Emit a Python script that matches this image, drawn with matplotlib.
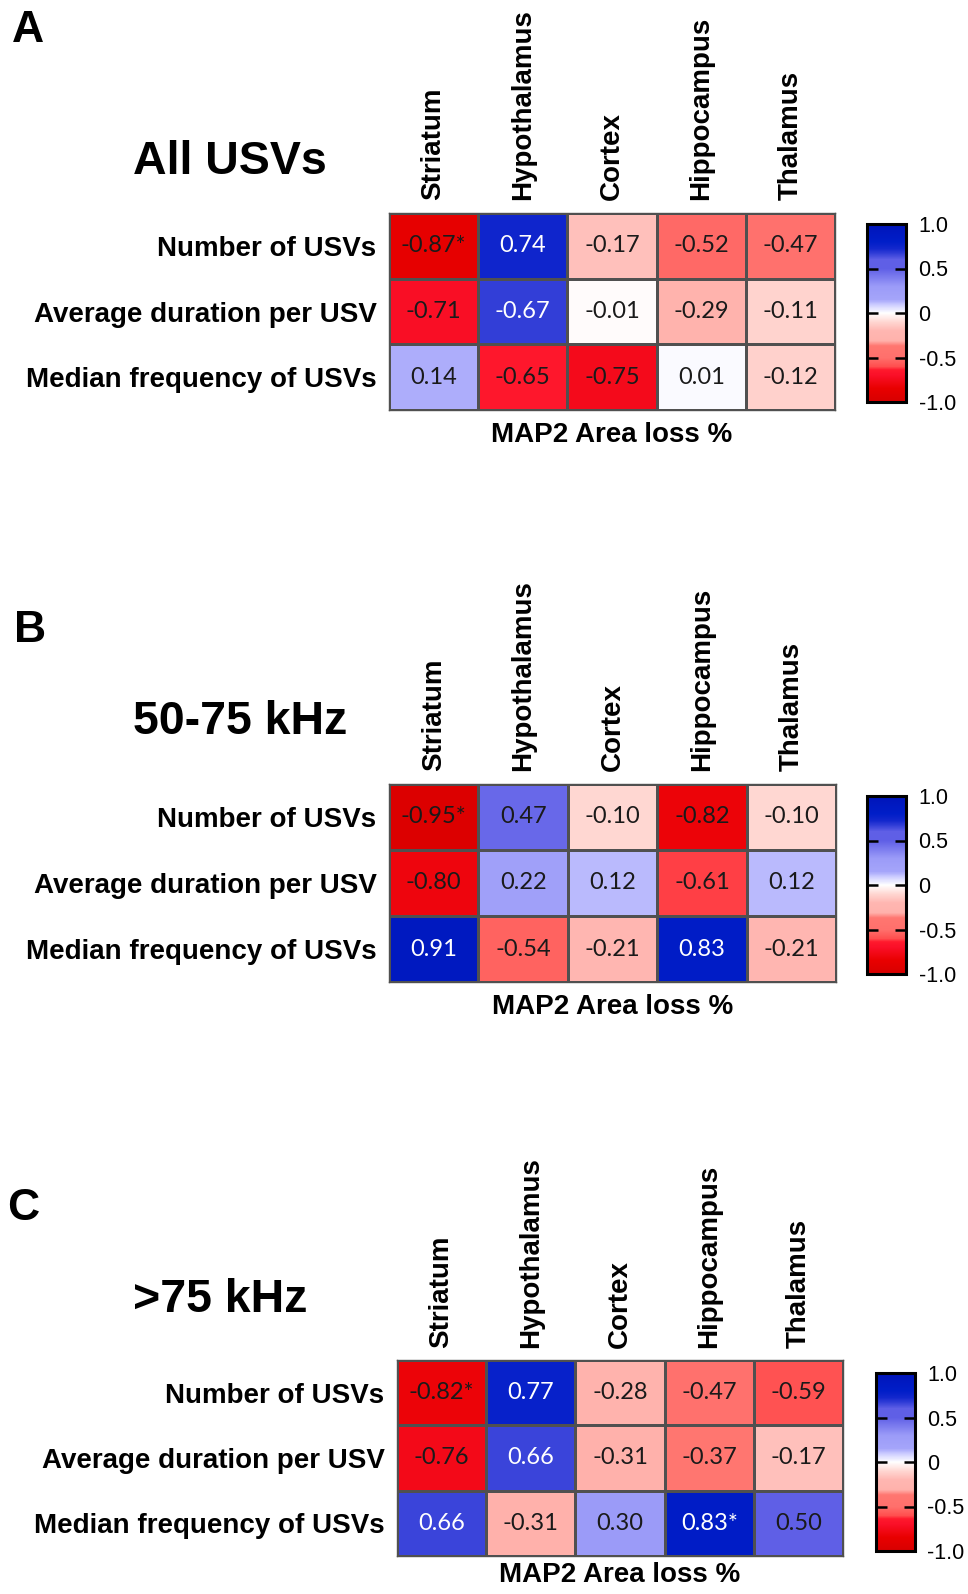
import matplotlib
matplotlib.use('Agg')
import matplotlib.pyplot as plt
import numpy as np
from matplotlib.colors import LinearSegmentedColormap, Normalize

regions = ['Striatum', 'Hypothalamus', 'Cortex', 'Hippocampus', 'Thalamus']
measures = ['Number of USVs', 'Average duration per USV', 'Median frequency of USVs']

# printed correlation values (as shown in the cells)
text_A = [['-0.87*', '0.74', '-0.17', '-0.52', '-0.47'],
          ['-0.71', '-0.67', '-0.01', '-0.29', '-0.11'],
          ['0.14', '-0.65', '-0.75', '0.01', '-0.12']]
text_B = [['-0.95*', '0.47', '-0.10', '-0.82', '-0.10'],
          ['-0.80', '0.22', '0.12', '-0.61', '0.12'],
          ['0.91', '-0.54', '-0.21', '0.83', '-0.21']]
text_C = [['-0.82*', '0.77', '-0.28', '-0.47', '-0.59'],
          ['-0.76', '0.66', '-0.31', '-0.37', '-0.17'],
          ['0.66', '-0.31', '0.30', '0.83*', '0.50']]

# values used for the cell colours (the A hypothalamus/duration cell is drawn blue)
vals_A = [[-0.87, 0.74, -0.17, -0.52, -0.47],
          [-0.71, 0.67, -0.01, -0.29, -0.11],
          [0.14, -0.65, -0.75, 0.01, -0.12]]
vals_B = [[-0.95, 0.47, -0.10, -0.82, -0.10],
          [-0.80, 0.22, 0.12, -0.61, 0.12],
          [0.91, -0.54, -0.21, 0.83, -0.21]]
vals_C = [[-0.82, 0.77, -0.28, -0.47, -0.59],
          [-0.76, 0.66, -0.31, -0.37, -0.17],
          [0.66, -0.31, 0.30, 0.83, 0.50]]

titles = ['All USVs', '50-75 kHz', '>75 kHz']
letters = ['A', 'B', 'C']
cbar_ticks = [-1.0, -0.5, 0.0, 0.5, 1.0]
cbar_labels = ['-1.0', '-0.5', '0', '0.5', '1.0']

# red-white-blue map, roughly like the GraphPad one
nodes = [(-1.0, (215, 0, 0)), (-0.85, (232, 0, 0)), (-0.7, (250, 15, 40)),
         (-0.64, (255, 25, 45)), (-0.6, (255, 80, 80)), (-0.5, (255, 112, 108)),
         (-0.37, (255, 118, 112)), (-0.31, (255, 178, 172)), (-0.2, (255, 182, 177)),
         (-0.1, (255, 215, 210)), (0.0, (255, 255, 255)), (0.1, (200, 200, 255)),
         (0.15, (165, 165, 250)), (0.3, (155, 155, 248)), (0.5, (95, 95, 230)),
         (0.6, (95, 95, 230)), (0.72, (20, 40, 205)), (0.8, (0, 30, 200)),
         (1.0, (0, 20, 185))]
cmap = LinearSegmentedColormap.from_list(
    'rwb', [((v + 1) / 2, tuple(c / 255 for c in rgb)) for v, rgb in nodes], N=512)
norm = Normalize(-1, 1)

W, H = 968, 1594
fig = plt.figure(figsize=(W / 100, H / 100), dpi=100)

def box(x, y, w, h):
    return [x / W, 1 - (y + h) / H, w / W, h / H]

bold = dict(family='Liberation Sans', weight='bold')

# pixel layout per panel: heatmap box, colorbar box, letter pos, title y
layout = [
    dict(heat=(389, 213, 446, 197), cbar=(867, 224, 39, 178), lx=12, ly=31, ty=162, lp=9),
    dict(heat=(389, 784, 447, 198), cbar=(867, 796, 39, 178), lx=14, ly=631, ty=722, lp=9),
    dict(heat=(397, 1360, 446, 196), cbar=(876, 1373, 39, 178), lx=7, ly=1208, ty=1300, lp=4),
]

panels = [(vals_A, text_A), (vals_B, text_B), (vals_C, text_C)]

for i, (vals, txt) in enumerate(panels):
    L = layout[i]
    ax = fig.add_axes(box(*L['heat']))
    data = np.array(vals)
    mesh = ax.pcolormesh(data, cmap=cmap, norm=norm, edgecolors='#505050', linewidth=1.0)
    ax.set_xlim(0, len(regions))
    ax.set_ylim(len(measures), 0)
    for r in range(len(measures)):
        for c in range(len(regions)):
            col = 'white' if data[r, c] >= 0.6 else '#1a1a1a'
            ax.text(c + 0.5, r + 0.5, txt[r][c], ha='center', va='center',
                    fontsize=17, family='Lato', color=col)
    ax.set_xticks(np.arange(len(regions)) + 0.5)
    ax.set_xticklabels(regions, rotation=90, fontsize=20, **bold)
    ax.xaxis.tick_top()
    ax.set_yticks(np.arange(len(measures)) + 0.5)
    ax.set_yticklabels(measures, fontsize=20, **bold)
    ax.tick_params(length=0, pad=9)
    for s in ax.spines.values():
        s.set_color('#505050')
        s.set_linewidth(1.0)
    ax.set_xlabel('MAP2 Area loss %', fontsize=20, labelpad=L['lp'], **bold)

    cax = fig.add_axes(box(*L['cbar']))
    cb = fig.colorbar(mesh, cax=cax)
    cb.set_ticks(cbar_ticks)
    cb.set_ticklabels(cbar_labels)
    cb.outline.set_linewidth(2.2)
    cax.tick_params(direction='in', length=8, width=1.8, left=True, right=True,
                    labelsize=15.5, pad=9)
    for t in cax.get_yticklabels():
        t.set_family('Liberation Sans')

    fig.text(L['lx'] / W, 1 - L['ly'] / H, letters[i], fontsize=32,
             va='center', ha='left', **bold)
    fig.text(133 / W, 1 - L['ty'] / H, titles[i], fontsize=33.5,
             va='center', ha='left', **bold)

fig.savefig('out.png', dpi=100)
